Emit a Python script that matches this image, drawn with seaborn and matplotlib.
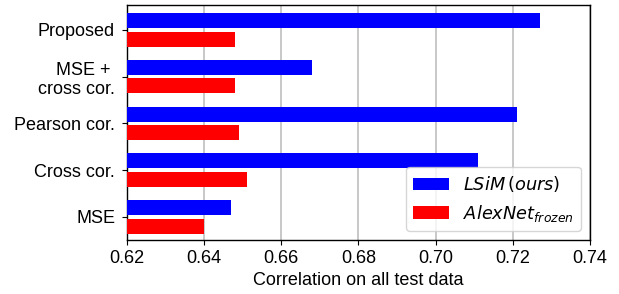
import pandas as pd
import seaborn as sns
import matplotlib.pyplot as plt

methods = ['Proposed', 'MSE + \ncross cor.', 'Pearson cor.', 'Cross cor.', 'MSE']
lsim = [0.727, 0.668, 0.721, 0.711, 0.647]
alexnet = [0.648, 0.648, 0.649, 0.651, 0.640]
series_names = ['$LSiM\\,(ours)$', '$AlexNet_{frozen}$']

df = pd.DataFrame({
    'method': methods * 2,
    'corr': lsim + alexnet,
    'model': [series_names[0]] * len(methods) + [series_names[1]] * len(methods),
})

plt.rcParams['font.family'] = ['Liberation Sans', 'DejaVu Sans']
plt.rcParams['mathtext.fontset'] = 'dejavusans'

fig = plt.figure(figsize=(6.19, 2.94), dpi=100)
ax = fig.add_axes([0.205, 0.184, 0.748, 0.799])

sns.barplot(data=df, x='corr', y='method', hue='model', orient='h',
            palette=['#0000ff', '#ff0000'], gap=0.2, saturation=1,
            ax=ax, zorder=3)

ax.set_xlim(0.62, 0.74)
ax.set_ylim(4.49, -0.53)
ax.set_xticks([0.62, 0.64, 0.66, 0.68, 0.70, 0.72, 0.74])
ax.set_xticklabels(['0.62', '0.64', '0.66', '0.68', '0.70', '0.72', '0.74'])
ax.xaxis.grid(True, color='#bfbfbf', linewidth=1.2, zorder=0)
ax.set_axisbelow(True)
ax.tick_params(labelsize=13, colors='black')
ax.tick_params(axis='y', pad=5)
ax.set_xlabel('Correlation on all test data', fontsize=13)
ax.set_ylabel('')
for s in ax.spines.values():
    s.set_color('black')
    s.set_linewidth(1.0)

leg = ax.legend(loc='lower right', fontsize=12.8, frameon=True, title=None)
leg.get_frame().set_edgecolor('#cccccc')

fig.savefig('out.png', dpi=100)
